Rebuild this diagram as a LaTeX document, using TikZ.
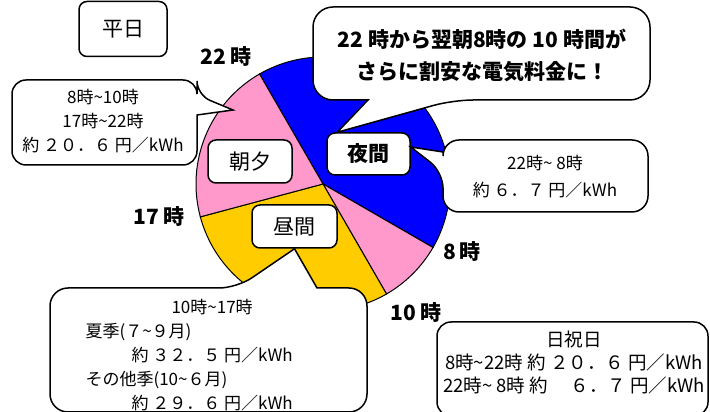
\documentclass[tikz,border=0pt]{standalone}
\usepackage{fontspec}
\setmainfont{Noto Sans CJK JP}
\definecolor{yorucolor}{RGB}{0,0,255}
\definecolor{asayucolor}{RGB}{255,153,204}
\definecolor{hirucolor}{RGB}{255,204,0}
\newcommand\nami{\textasciitilde}
\begin{document}
\begin{tikzpicture}[x=1pt,y=1pt,
    waku/.style={draw, fill=white, line width=1.5pt, rounded corners=8pt, inner sep=0pt},
    fukidashi/.style={draw, fill=white, line width=1.5pt, rounded corners=16pt},
    jikoku/.style={font=\fontsize{21}{21}\selectfont\bfseries},
    setsumei/.style={font=\fontsize{17}{24}\selectfont, align=center}]
    \useasboundingbox (0,0) rectangle (710,412);
    \clip (0,0) rectangle (710,412);

    % 円グラフ
    \coordinate (c) at (323,228);
    \filldraw[fill=yorucolor, line width=1pt] (c) -- ++(-30:127pt) arc[start angle=-30, end angle=120, radius=127pt] -- cycle;
    \filldraw[fill=asayucolor, line width=1pt] (c) -- ++(-60:127pt) arc[start angle=-60, end angle=-30, radius=127pt] -- cycle;
    \filldraw[fill=hirucolor, line width=1pt] (c) -- ++(-165:127pt) arc[start angle=-165, end angle=-60, radius=127pt] -- cycle;
    \filldraw[fill=asayucolor, line width=1pt] (c) -- ++(120:127pt) arc[start angle=120, end angle=195, radius=127pt] -- cycle;

    % 時刻
    \node[jikoku] (j22) at (226,355) {22\,時};
    \node[jikoku] (j17) at (159,195) {17\,時};
    \node[jikoku] (j8) at (462,160) {8\,時};
    \node[jikoku] (j10) at (416,99) {10\,時};

    % 枠
    \node[waku, minimum width=88, minimum height=55, font=\fontsize{21}{21}\selectfont] (heijitsu) at (123,383) {平日};
    \node[waku, minimum width=84, minimum height=43, font=\fontsize{21}{21}\selectfont] (asayu) at (250,250.5) {朝夕};
    \node[waku, minimum width=85, minimum height=43, font=\fontsize{21}{21}\selectfont] (hiruma) at (294.5,185.5) {昼間};
    \node[waku, minimum width=83, minimum height=42, font=\fontsize{21}{21}\selectfont\bfseries] (yakan) at (368.5,258) {夜間};

    % 吹き出し（上）
    \draw[fukidashi, rounded corners=20pt] (313,360) -- (313,405) -- (650,405) -- (650,312) -- (453,312)
        [sharp corners] -- ([xshift=11pt]yakan.north west) -- (368,312) [rounded corners=20pt] -- (313,312) -- cycle;
    \node[font=\fontsize{21}{32}\selectfont\bfseries, align=center] (midashi) at (482,356) {22 時から翌朝8時の 10 時間が\\さらに割安な電気料金に！};

    % 吹き出し（夜間）
    \draw[fukidashi] (545,272) -- (648,272) -- (648,200) -- (443,200) -- (443,240)
        [sharp corners] -- ([yshift=7pt]yakan.east) -- (443,260) [rounded corners=16pt] -- (443,272) -- cycle;
    \node[setsumei, font=\fontsize{17}{27}\selectfont] (yakanryo) at (545,235.5) {22時\nami{} 8時\\約 ６．７ 円／kWh};

    % 吹き出し（朝夕）
    \coordinate (asayupt) at (233,302);
    \draw[fukidashi, rounded corners=14pt] (12,290) -- (12,332) -- (197,332) -- (197,317)
        [sharp corners] -- (asayupt) -- (197,297) [rounded corners=14pt] -- (197,247) -- (12,247) -- cycle;
    \node[setsumei] (asayuryo) at (103,291) {8時\nami{}10時\\17時\nami{}22時\\約 ２０．６ 円／kWh};

    % 吹き出し（昼間）
    \draw[fukidashi, rounded corners=18pt] (50,60) -- (50,124) -- (237,124)
        [sharp corners] -- (hiruma.south) -- (317,124) [rounded corners=18pt] -- (367,124) -- (367,0) -- (50,0) -- cycle;
    \node[setsumei, align=left, anchor=west] (hiruryo) at (82,56.5) {\hspace*{86pt}10時\nami{}17時\\夏季(７\nami{}９月)\\\hspace*{46pt}約 ３２．５ 円／kWh\\その他季(10\nami{}６月)\\\hspace*{46pt}約 ２９．６ 円／kWh};

    % 日祝日
    \draw[waku, rounded corners=14pt] (437,-4) rectangle (708,90);
    \node[setsumei, font=\fontsize{18.5}{23}\selectfont] (kyujitsu) at (574,49.5) {日祝日\\8時\nami{}22時 約 ２０．６ 円／kWh\\22時\nami{} 8時 約 　６．７ 円／kWh};
\end{tikzpicture}
\end{document}
